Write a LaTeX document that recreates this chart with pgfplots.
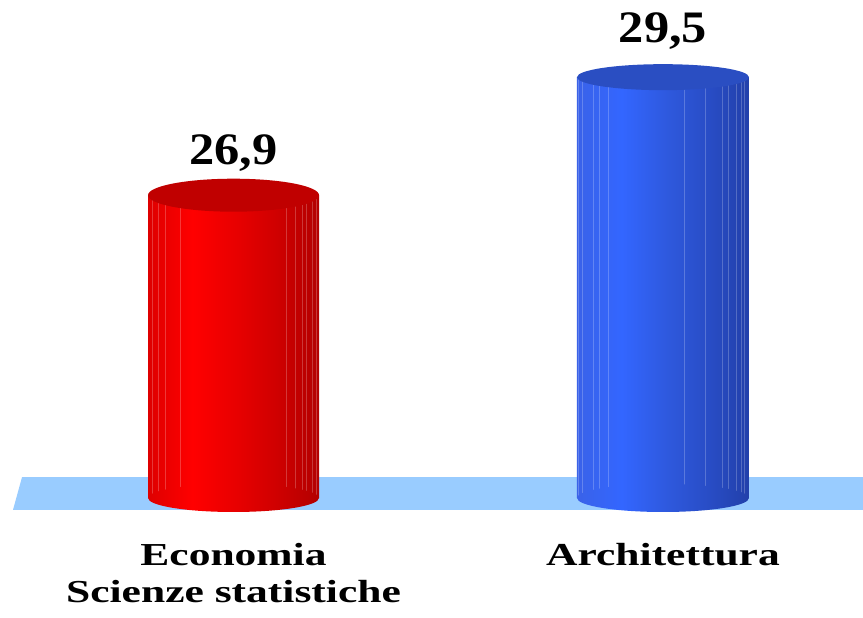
\documentclass[border=0pt]{standalone}
\usepackage{pgfplots}
\pgfplotsset{compat=1.18}
\usepackage{fontspec}
\setmainfont{Liberation Serif}
\usepackage{graphicx}

\definecolor{floorblue}{HTML}{99CCFF}
\definecolor{redtop}{HTML}{C00000}
\definecolor{bluetop}{HTML}{2A4EC2}

% cylinder sides: path width is mapped onto 25bp..75bp
\pgfdeclarehorizontalshading{redbody}{100bp}{color(0bp)=(red!87!black); color(25bp)=(red!87!black);
  color(38bp)=(red); color(52bp)=(red!90!black); color(64bp)=(red!80!black); color(75bp)=(red!70!black); color(100bp)=(red!70!black)}
\pgfdeclarehorizontalshading{bluebody}{100bp}{color(0bp)=(rgb,255:red,58;green,98;blue,232); color(25bp)=(rgb,255:red,58;green,98;blue,232);
  color(38bp)=(rgb,255:red,51;green,102;blue,255); color(52bp)=(rgb,255:red,46;green,88;blue,220); color(64bp)=(rgb,255:red,40;green,76;blue,196); color(75bp)=(rgb,255:red,34;green,64;blue,170); color(100bp)=(rgb,255:red,34;green,64;blue,170)}

\pgfdeclareplotmark{redlid}{\pgfpathellipse{\pgfpointorigin}{\pgfqpoint{85.5pt}{0pt}}{\pgfqpoint{0pt}{16.5pt}}\pgfsetfillcolor{redtop}\pgfusepath{fill}}
\pgfdeclareplotmark{bluelid}{\pgfpathellipse{\pgfpointorigin}{\pgfqpoint{86pt}{0pt}}{\pgfqpoint{0pt}{13pt}}\pgfsetfillcolor{bluetop}\pgfusepath{fill}}
\pgfdeclareplotmark{redfoot}{\pgfpathellipse{\pgfpointorigin}{\pgfqpoint{85.5pt}{0pt}}{\pgfqpoint{0pt}{14pt}}\pgfshadepath{redbody}{0}\pgfusepath{discard}}
\pgfdeclareplotmark{bluefoot}{\pgfpathellipse{\pgfpointorigin}{\pgfqpoint{86pt}{0pt}}{\pgfqpoint{0pt}{14pt}}\pgfshadepath{bluebody}{0}\pgfusepath{discard}}

\pgfplotsset{
  facet/.style={ybar, bar width=1pt, draw=none, fill=white, fill opacity=0.22, forget plot},
  valuelabel/.style={nodes near coords={\fontsize{45}{45}\selectfont\bfseries
      \scalebox{1.12}[1]{\pgfmathprintnumber[assume math mode=true]{\pgfplotspointmeta}}},
    nodes near coords style={anchor=base, yshift=#1, text=black}},
}

\begin{document}
\begin{tikzpicture}
\begin{axis}[
  at={(0,0)}, anchor=south west,
  scale only axis, width=863pt, height=498pt,
  xmin=-0.5437, xmax=1.4657, ymin=20.23, ymax=31.2,
  clip=false,
  axis line style={draw=none},
  major tick length=0pt,
  ytick=\empty,
  xtick={0,1},
  xticklabels={{\scalebox{1.36}[1]{Economia}\\\scalebox{1.36}[1]{Scienze statistiche}},{\scalebox{1.36}[1]{Architettura}}},
  xticklabel style={align=center, anchor=north, inner sep=0pt, yshift=-45pt,
    font=\fontsize{32}{37}\selectfont\bfseries},
  /pgf/number format/.cd, use comma, fixed, precision=1, fixed zerofill,
]
% floor
\addplot[fill=floorblue, draw=none] coordinates {(-0.4924,20.69) (1.4657,20.69) (1.4657,19.97) (-0.5134,19.97)} -- cycle;

% Economia / Scienze statistiche
\addplot[only marks, mark=redfoot] coordinates {(0,20.23)};
\addplot[ybar, bar width=171pt, bar shift=0pt, draw=none, shading=redbody] coordinates {(0,26.9)};
\pgfplotsinvokeforeach{-81,-75,-68,-53,53,62,69,73,79,83}{
  \addplot[facet, bar shift=#1pt] coordinates {(0,26.9)};
}
\addplot[only marks, mark=redlid, valuelabel=31pt] coordinates {(0,26.9)};

% Architettura
\addplot[only marks, mark=bluefoot] coordinates {(1,20.23)};
\addplot[ybar, bar width=172pt, bar shift=0pt, draw=none, shading=bluebody] coordinates {(1,29.5)};
\pgfplotsinvokeforeach{-84,-80,-69,-63,-54,22,43,60,66,74,79,82}{
  \addplot[facet, bar shift=#1pt] coordinates {(1,29.5)};
}
\addplot[only marks, mark=bluelid, valuelabel=35pt] coordinates {(1,29.5)};
\end{axis}
\pgfresetboundingbox
\path[use as bounding box] (0,-120pt) rectangle (863pt,498pt);
\end{tikzpicture}
\end{document}
